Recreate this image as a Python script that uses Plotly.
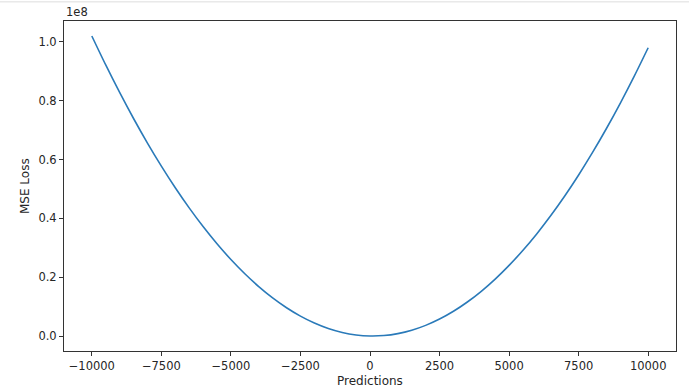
import plotly.graph_objects as go

predictions = [-10000, -9500, -9000, -8500, -8000, -7500, -7000, -6500, -6000, -5500,
               -5000, -4500, -4000, -3500, -3000, -2500, -2000, -1500, -1000, -500,
               0, 500, 1000, 1500, 2000, 2500, 3000, 3500, 4000, 4500,
               5000, 5500, 6000, 6500, 7000, 7500, 8000, 8500, 9000, 9500, 10000]
mse_loss = [1.0201e8, 9.216e7, 8.281e7, 7.396e7, 6.561e7, 5.776e7, 5.041e7, 4.356e7,
            3.721e7, 3.136e7, 2.601e7, 2.116e7, 1.681e7, 1.296e7, 9.61e6, 6.76e6,
            4.41e6, 2.56e6, 1.21e6, 3.6e5, 1.0e4, 1.6e5, 8.1e5, 1.96e6, 3.61e6,
            5.76e6, 8.41e6, 1.156e7, 1.521e7, 1.936e7, 2.401e7, 2.916e7, 3.481e7,
            4.096e7, 4.761e7, 5.476e7, 6.241e7, 7.056e7, 7.921e7, 8.836e7, 9.801e7]

x_ticks = [-10000, -7500, -5000, -2500, 0, 2500, 5000, 7500, 10000]
x_ticktext = ["\u221210000", "\u22127500", "\u22125000", "\u22122500", "0", "2500", "5000", "7500", "10000"]
y_ticks = [0, 0.2e8, 0.4e8, 0.6e8, 0.8e8, 1.0e8]
y_ticktext = ["0.0", "0.2", "0.4", "0.6", "0.8", "1.0"]
x_title = "Predictions"
y_title = "MSE Loss"

FONT = "DejaVu Sans"
TXT = "#262626"

fig = go.Figure()
fig.add_trace(go.Scatter(x=predictions, y=mse_loss, mode="lines",
                         line=dict(color="#2a7ab9", width=1.6, shape="spline", smoothing=0.8)))

axis_common = dict(showline=True, linecolor="#333333", linewidth=1, mirror=True,
                   ticks="outside", ticklen=4, tickwidth=1, tickcolor="#333333",
                   showgrid=False, zeroline=False, automargin=False,
                   tickfont=dict(family=FONT, size=11.5, color=TXT))

fig.update_layout(
    width=689, height=392,
    margin=dict(l=64, r=13, t=21, b=41),
    paper_bgcolor="white", plot_bgcolor="white",
    showlegend=False,
    xaxis=dict(range=[-11000, 11000], tickvals=x_ticks, ticktext=x_ticktext, **axis_common),
    yaxis=dict(range=[-5.1e6, 1.0711e8], tickvals=y_ticks, ticktext=y_ticktext, **axis_common),
)

fig.add_annotation(text=x_title, xref="paper", yref="paper", x=0.5, y=-0.0909,
                   xanchor="center", yanchor="middle", showarrow=False,
                   font=dict(family=FONT, size=12, color=TXT))
fig.add_annotation(text=y_title, xref="paper", yref="paper", x=-0.0637, y=0.5, textangle=-90,
                   xanchor="center", yanchor="middle", showarrow=False,
                   font=dict(family=FONT, size=12, color=TXT))

fig.add_annotation(text="1e8", xref="paper", yref="paper", x=0, y=1, xanchor="left", yanchor="bottom",
                   showarrow=False, yshift=0, font=dict(family=FONT, size=11.5, color=TXT))

fig.add_shape(type="line", xref="paper", yref="paper", x0=-0.2, x1=1.2, y0=1.058, y1=1.058,
              line=dict(color="#dddddd", width=1))

fig.write_html("out.html")
